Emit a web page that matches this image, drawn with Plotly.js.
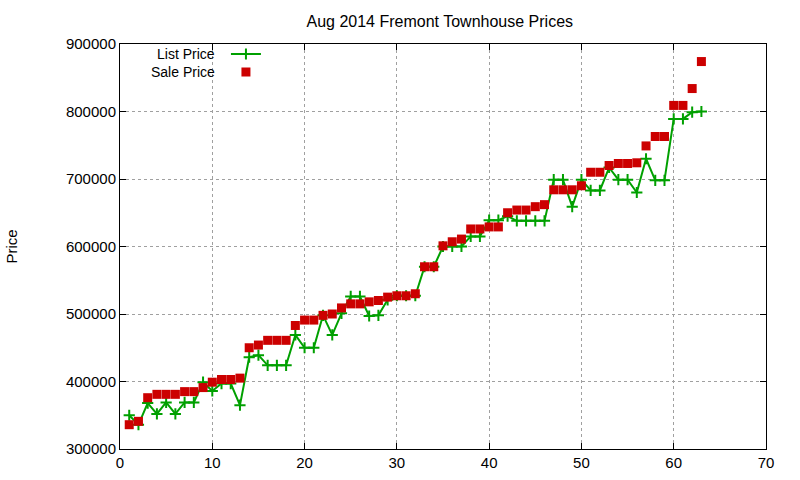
<!DOCTYPE html>
<html>
<head>
<meta charset="utf-8">
<script src="https://cdn.plot.ly/plotly-3.0.1.min.js"></script>
<style>
  body { margin: 0; background: #fff; }
  #plot { width: 800px; height: 480px; }
</style>
</head>
<body>
<div id="plot"></div>
<script>
// listing index 1..63
const idx = [];
for (let i = 1; i <= 63; i++) idx.push(i);

const listPrice = [
  350000, 336000, 368000, 352000, 369000, 352000, 369000, 369000, 399000, 386000,
  397000, 397000, 365000, 436000, 439000, 424000, 424000, 424000, 469000, 450000,
  450000, 498000, 469000, 501000, 526000, 526000, 497000, 498000, 521000, 527000,
  527000, 527000, 570000, 570000, 600000, 600000, 600000, 615000, 615000, 639000,
  639000, 645000, 638000, 638000, 638000, 638000, 699000, 699000, 659000, 699000,
  683000, 683000, 717000, 699000, 699000, 680000, 730000, 698000, 698000, 789000,
  789000, 799000, 800000
];

const salePrice = [
  336000, 341000, 376000, 381000, 381000, 381000, 385000, 385000, 391000, 399000,
  403000, 403000, 405000, 450000, 454000, 461000, 461000, 461000, 483000, 491000,
  491000, 498000, 500000, 509000, 515000, 515000, 518000, 520000, 525000, 527000,
  527000, 530000, 570000, 570000, 601000, 607000, 611000, 626000, 626000, 629000,
  629000, 650000, 654000, 654000, 659000, 662000, 684000, 684000, 684000, 690000,
  710000, 710000, 720000, 723000, 723000, 724000, 749000, 763000, 763000, 809000,
  809000, 834000, 874000
];

const seriesNames = ['List Price', 'Sale Price'];

const fam = 'Liberation Sans, Arial, sans-serif';
const font = { family: fam, size: 15, color: '#000' };

// gnuplot puts the key text to the left of the sample, so the text goes in
// annotations and each sample gets its own small legend
const traces = [
  {
    x: idx, y: listPrice, name: '', legend: 'legend',
    type: 'scatter', mode: 'lines+markers',
    line: { color: '#00a000', width: 2 },
    marker: { symbol: 'cross-thin', size: 8, line: { color: '#00a000', width: 2 } }
  },
  {
    x: idx, y: salePrice, name: '', legend: 'legend2',
    type: 'scatter', mode: 'markers',
    marker: { symbol: 'square', size: 9, color: '#cc0000' }
  }
];

const axisCommon = {
  showline: true, linecolor: '#000', linewidth: 1, mirror: 'ticks',
  ticks: 'inside', ticklen: 6, tickcolor: '#000',
  showgrid: true, gridcolor: '#a0a0a0', griddash: 'dot', gridwidth: 1,
  zeroline: false, tickfont: font
};

const keyRows = [0.9753, 0.9309];
const legendCommon = { x: 0.164, xanchor: 'left', yanchor: 'middle', bgcolor: 'rgba(0,0,0,0)', font: { family: fam, size: 11 }, borderwidth: 0 };

const layout = {
  width: 800, height: 480,
  margin: { l: 120, r: 34, t: 44, b: 31 },
  paper_bgcolor: '#fff', plot_bgcolor: '#fff',
  font: font,
  title: { text: 'Aug 2014 Fremont Townhouse Prices', x: 0.495, xref: 'paper', xanchor: 'center', y: 0.956, yref: 'container', yanchor: 'middle', font: { family: fam, size: 16, color: '#000' } },
  xaxis: Object.assign({}, axisCommon, { range: [0, 70], dtick: 10 }),
  yaxis: Object.assign({}, axisCommon, {
    range: [300000, 900000], dtick: 100000, tickformat: 'd',
    title: { text: 'Price', font: font, standoff: 44 }
  }),
  showlegend: true,
  legend: Object.assign({}, legendCommon, { y: keyRows[0] }),
  legend2: Object.assign({}, legendCommon, { y: keyRows[1] }),
  annotations: seriesNames.map((n, i) => ({
    text: n, xref: 'paper', yref: 'paper', x: 0.1497, y: keyRows[i],
    xanchor: 'right', yanchor: 'middle', showarrow: false,
    font: { family: fam, size: 14, color: '#000' }
  }))
};

Plotly.newPlot('plot', traces, layout, { displayModeBar: false, staticPlot: true });
</script>
</body>
</html>
